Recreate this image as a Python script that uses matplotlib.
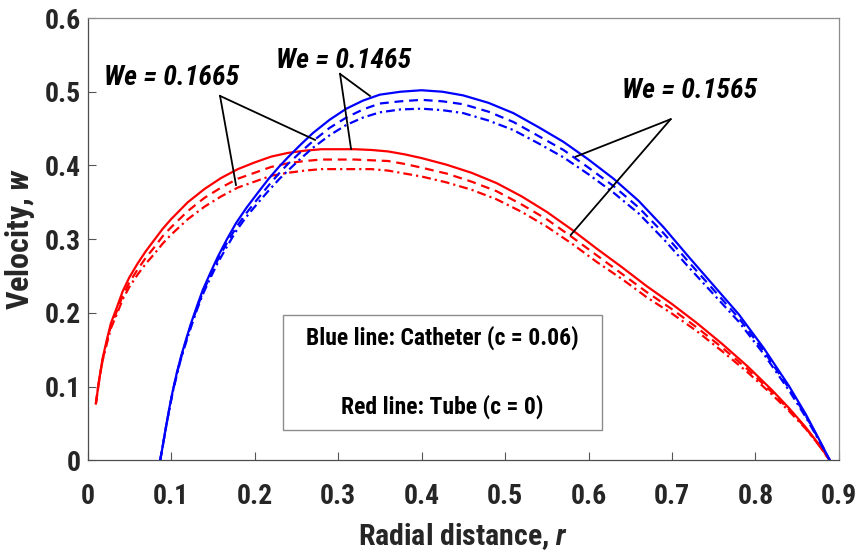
import matplotlib
matplotlib.use("Agg")
import matplotlib.pyplot as plt
from matplotlib.patches import Rectangle

FONT = "Roboto Condensed"
plt.rcParams["font.family"] = [FONT, "Liberation Sans", "DejaVu Sans"]
plt.rcParams["font.weight"] = "bold"
plt.rcParams["mathtext.fontset"] = "custom"
plt.rcParams["mathtext.rm"] = FONT + ":bold"
plt.rcParams["mathtext.it"] = FONT + ":bold:italic"

# ---- data ----
r_tube = [0.010, 0.014, 0.018, 0.023, 0.028, 0.035, 0.042, 0.050, 0.060, 0.070, 0.080, 0.090,
          0.100, 0.120, 0.140, 0.160, 0.180, 0.200, 0.220, 0.240, 0.260, 0.280, 0.300, 0.320,
          0.340, 0.360, 0.380, 0.400, 0.430, 0.460, 0.490, 0.520, 0.550, 0.580, 0.610, 0.640,
          0.670, 0.700, 0.730, 0.760, 0.790, 0.820, 0.840, 0.860, 0.875, 0.889]
w_tube_solid = [0.077, 0.110, 0.138, 0.163, 0.186, 0.207, 0.229, 0.248, 0.267, 0.284, 0.299, 0.314,
                0.327, 0.350, 0.368, 0.383, 0.395, 0.404, 0.412, 0.417, 0.420, 0.422, 0.422, 0.422,
                0.421, 0.419, 0.415, 0.410, 0.401, 0.390, 0.376, 0.358, 0.337, 0.313, 0.287, 0.262,
                0.236, 0.212, 0.186, 0.158, 0.128, 0.095, 0.071, 0.045, 0.023, 0.000]
w_tube_dash = [0.077, 0.109, 0.136, 0.160, 0.182, 0.202, 0.223, 0.241, 0.259, 0.275, 0.289, 0.304,
               0.316, 0.338, 0.356, 0.370, 0.382, 0.390, 0.398, 0.403, 0.406, 0.408, 0.408, 0.408,
               0.407, 0.406, 0.402, 0.397, 0.389, 0.378, 0.365, 0.347, 0.327, 0.303, 0.278, 0.253,
               0.228, 0.205, 0.180, 0.153, 0.124, 0.092, 0.069, 0.044, 0.022, 0.000]
w_tube_dashdot = [0.077, 0.109, 0.135, 0.158, 0.179, 0.198, 0.218, 0.235, 0.252, 0.267, 0.280, 0.294,
                  0.306, 0.327, 0.344, 0.358, 0.370, 0.378, 0.386, 0.390, 0.393, 0.395, 0.395, 0.395,
                  0.395, 0.393, 0.389, 0.385, 0.377, 0.367, 0.354, 0.337, 0.317, 0.294, 0.269, 0.246,
                  0.221, 0.199, 0.175, 0.148, 0.120, 0.089, 0.067, 0.043, 0.022, 0.000]

r_cath = [0.087, 0.090, 0.094, 0.098, 0.102, 0.107, 0.112, 0.118, 0.124, 0.131, 0.138, 0.147,
          0.156, 0.167, 0.178, 0.190, 0.204, 0.217, 0.230, 0.240, 0.255, 0.270, 0.290, 0.310,
          0.330, 0.350, 0.375, 0.400, 0.425, 0.450, 0.480, 0.510, 0.540, 0.570, 0.600, 0.630,
          0.660, 0.690, 0.720, 0.750, 0.780, 0.810, 0.840, 0.860, 0.875, 0.889]
w_cath_solid = [0.000, 0.019, 0.046, 0.071, 0.094, 0.119, 0.141, 0.164, 0.186, 0.209, 0.231, 0.254,
                0.276, 0.300, 0.322, 0.342, 0.363, 0.382, 0.399, 0.411, 0.428, 0.444, 0.462, 0.477,
                0.488, 0.496, 0.500, 0.502, 0.500, 0.495, 0.485, 0.471, 0.452, 0.432, 0.408, 0.382,
                0.352, 0.316, 0.276, 0.237, 0.198, 0.152, 0.101, 0.063, 0.031, 0.000]
w_cath_dash = [0.000, 0.019, 0.045, 0.070, 0.093, 0.118, 0.139, 0.162, 0.184, 0.206, 0.228, 0.250,
               0.272, 0.295, 0.316, 0.335, 0.355, 0.373, 0.390, 0.402, 0.418, 0.433, 0.451, 0.465,
               0.476, 0.484, 0.487, 0.489, 0.487, 0.483, 0.473, 0.459, 0.440, 0.421, 0.397, 0.372,
               0.343, 0.308, 0.269, 0.231, 0.193, 0.148, 0.098, 0.061, 0.030, 0.000]
w_cath_dashdot = [0.000, 0.019, 0.045, 0.069, 0.092, 0.116, 0.138, 0.160, 0.181, 0.204, 0.225, 0.247,
                  0.268, 0.290, 0.311, 0.330, 0.349, 0.366, 0.382, 0.393, 0.409, 0.424, 0.441, 0.455,
                  0.465, 0.472, 0.476, 0.477, 0.475, 0.471, 0.461, 0.448, 0.430, 0.411, 0.388, 0.363,
                  0.335, 0.300, 0.262, 0.225, 0.188, 0.144, 0.095, 0.059, 0.029, 0.000]

x_ticks = [0, 0.1, 0.2, 0.3, 0.4, 0.5, 0.6, 0.7, 0.8, 0.9]
x_tick_labels = ["0", "0.1", "0.2", "0.3", "0.4", "0.5", "0.6", "0.7", "0.8", "0.9"]
y_ticks = [0, 0.1, 0.2, 0.3, 0.4, 0.5, 0.6]
y_tick_labels = ["0", "0.1", "0.2", "0.3", "0.4", "0.5", "0.6"]

ann_labels = ["We = 0.1665", "We = 0.1465", "We = 0.1565"]
ann_text_xy = [(0.020, 0.509), (0.226, 0.532), (0.640, 0.492)]
ann_apex = [(0.1587, 0.4943), (0.3024, 0.5242), (0.6984, 0.4627)]
ann_targets = [[(0.1778, 0.3735), (0.2725, 0.4346)],
               [(0.3383, 0.4943), (0.3156, 0.4224)],
               [(0.5847, 0.4119), (0.5787, 0.3057)]]

box_lines = ["Blue line: Catheter (c = 0.06)", "Red line: Tube (c = 0)"]

# ---- figure ----
fig = plt.figure(figsize=(8.59, 5.54), dpi=100)
ax = fig.add_axes([0.1019, 0.1691, 0.8748, 0.7984])

lw = 1.6
dash = (0, (4.0, 2.6))
dashdot = (0, (4.0, 1.8, 1.0, 1.8))
ax.plot(r_tube, w_tube_solid, color="#ff0000", lw=lw, ls="-")
ax.plot(r_tube, w_tube_dash, color="#ff0000", lw=lw, ls=dash)
ax.plot(r_tube, w_tube_dashdot, color="#ff0000", lw=lw, ls=dashdot)
ax.plot(r_cath, w_cath_solid, color="#0000ff", lw=lw, ls="-")
ax.plot(r_cath, w_cath_dash, color="#0000ff", lw=lw, ls=dash)
ax.plot(r_cath, w_cath_dashdot, color="#0000ff", lw=lw, ls=dashdot)

for lab, txy, apex, tg in zip(ann_labels, ann_text_xy, ann_apex, ann_targets):
    ax.text(txy[0], txy[1], lab, fontsize=20, fontweight="bold", fontstyle="italic",
            ha="left", va="baseline", color="black")
    for t in tg:
        ax.plot([apex[0], t[0]], [apex[1], t[1]], color="black", lw=1.3)

ax.set_xlim(0, 0.9)
ax.set_ylim(0, 0.6)
ax.set_xticks(x_ticks)
ax.set_xticklabels(x_tick_labels)
ax.set_yticks(y_ticks)
ax.set_yticklabels(y_tick_labels)
ax.tick_params(direction="in", length=5.5, width=0.8, color="#555555", labelcolor="#262626",
               labelsize=20, top=False, right=False)
ax.tick_params(axis="x", pad=16)
ax.tick_params(axis="y", pad=5)
ax.spines["left"].set_color("#4d4d4d")
ax.spines["bottom"].set_color("#4d4d4d")
ax.spines["top"].set_color("#8c8c8c")
ax.spines["right"].set_color("#8c8c8c")
for s in ax.spines.values():
    s.set_linewidth(0.9)

ax.set_xlabel("Radial distance, $r$", fontsize=21.5, fontweight="bold", color="#262626", labelpad=8)
ax.set_ylabel("Velocity, $w$", fontsize=23, fontweight="bold", color="#262626", labelpad=5)

bx0, by0 = (283 - 87.5) / 835, (460.3 - 430.3) / 737
bw, bh = (602.3 - 283) / 835, (430.3 - 314.7) / 737
ax.add_patch(Rectangle((bx0, by0), bw, bh, fill=True, facecolor="white",
                       edgecolor="#8c8c8c", lw=1.0, zorder=5))
ax.text(bx0 + bw / 2, by0 + bh * 0.80, box_lines[0], fontsize=17, fontweight="bold",
        ha="center", va="center", zorder=6)
ax.text(bx0 + bw / 2, by0 + bh * 0.20, box_lines[1], fontsize=17, fontweight="bold",
        ha="center", va="center", zorder=6)

fig.savefig("out.png", dpi=100)
